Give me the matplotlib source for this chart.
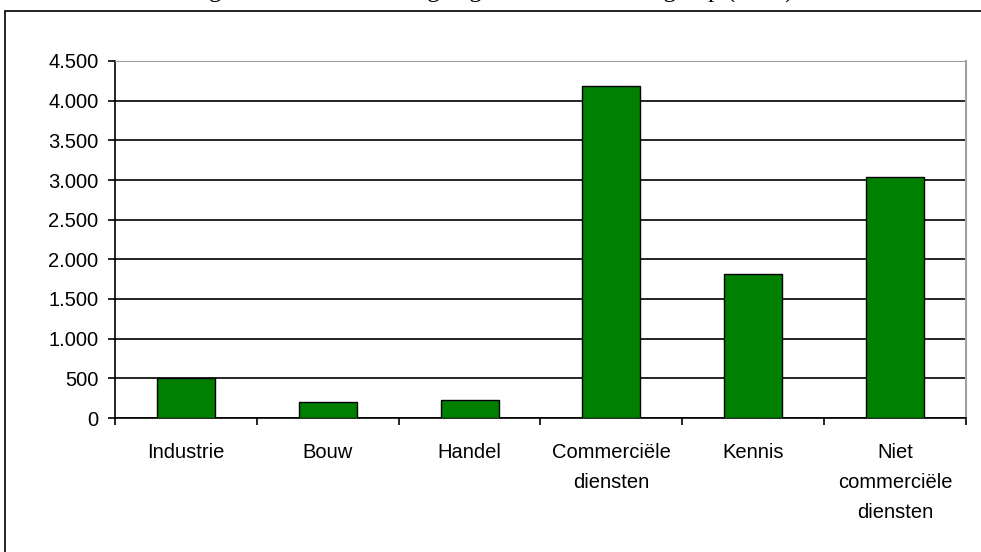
import matplotlib.pyplot as plt
from matplotlib.patches import Rectangle
import numpy as np

# Gegevens
sectoren = ["Industrie", "Bouw", "Handel", "Commerciële\ndiensten", "Kennis",
            "Niet\ncommerciële\ndiensten"]
waarden = [500, 200, 225, 4180, 1810, 3040]
y_ticks = [0, 500, 1000, 1500, 2000, 2500, 3000, 3500, 4000, 4500]
y_labels = ["0", "500", "1.000", "1.500", "2.000", "2.500", "3.000", "3.500",
            "4.000", "4.500"]
titel = "Figuur 3 Toename werkgelegenheid naar sectorgroep (2007)"

plt.rcParams['font.family'] = ['Liberation Sans', 'DejaVu Sans']

fig = plt.figure(figsize=(9.81, 5.52), dpi=100)
W, H = 981, 552

# kader rond de grafiek (rechts en onder buiten beeld)
fig.patches.append(Rectangle((5 / W, -0.1), 1.1, 1.1 - 11 / H,
                             transform=fig.transFigure, fill=False,
                             edgecolor='black', linewidth=1.2))

# titel (valt grotendeels buiten beeld, zoals in het origineel)
fig.text(0.5, 1 + 2 / H, titel, ha='center', va='baseline',
         family='Liberation Serif', fontsize=18)

ax = fig.add_axes([115 / W, (H - 418) / H, 851 / W, 357 / H])
x = np.arange(len(sectoren))
ax.bar(x, waarden, width=0.41, color='#008000', edgecolor='black', linewidth=1,
       zorder=3)

ax.set_xlim(-0.5, len(sectoren) - 0.5)
ax.set_ylim(0, 4500)
ax.set_yticks(y_ticks)
ax.set_yticklabels(y_labels, fontsize=14.5)
ax.set_xticks(x)
ax.set_xticklabels(sectoren, fontsize=14.5, linespacing=1.72, va='top')
ax.set_xticks(np.arange(len(sectoren) + 1) - 0.5, minor=True)

ax.tick_params(axis='x', which='major', length=0, pad=18)
ax.tick_params(axis='x', which='minor', length=5, width=1.2, direction='out')
ax.tick_params(axis='y', length=5, width=1.2, pad=7)

ax.yaxis.grid(True, color='black', linewidth=1.2, zorder=0)
ax.set_axisbelow(True)

ax.spines['left'].set_color('black')
ax.spines['left'].set_linewidth(1.2)
ax.spines['bottom'].set_color('black')
ax.spines['bottom'].set_linewidth(1.2)
ax.spines['top'].set_color('#a0a0a0')
ax.spines['right'].set_color('#a0a0a0')
ax.spines['right'].set_linewidth(1.5)

fig.savefig("out.png", dpi=100)
